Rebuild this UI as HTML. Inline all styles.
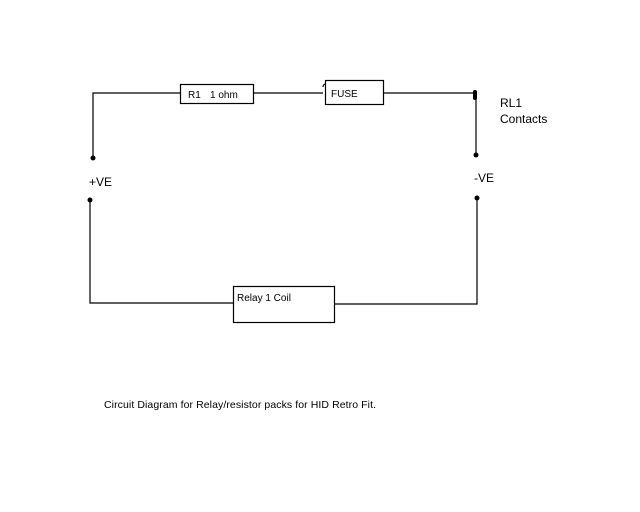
<!DOCTYPE html>
<html><head><style>
html,body{margin:0;padding:0;background:#fff;}
svg{display:block;}
text{font-family:"Liberation Sans",Arial,sans-serif;fill:#000;}
</style></head><body>
<svg width="640" height="512" viewBox="0 0 640 512" xmlns="http://www.w3.org/2000/svg">
<g stroke="#000" stroke-width="1.2" fill="none">
<polyline points="93,158 93,93 180,93"/>
<rect x="180.5" y="84.5" width="73" height="19" fill="#fff"/>
<line x1="253" y1="93" x2="323" y2="93"/>
<rect x="325.5" y="80.5" width="58" height="24" fill="#fff"/>
<path d="M325,84 Q323,85 323,87"/>
<line x1="383" y1="93" x2="476" y2="93"/>
<line x1="476" y1="93" x2="476" y2="155"/>
<polyline points="90,200 90,303 233,303"/>
<rect x="233.5" y="286.5" width="101" height="36" fill="#fff"/>
<polyline points="334,304 477,304 477,198"/>
</g>
<g fill="#000">
<circle cx="93" cy="158" r="2.5"/>
<circle cx="90" cy="200" r="2.5"/>
<circle cx="476" cy="155" r="2.5"/>
<circle cx="477" cy="198" r="2.5"/>
<rect x="473" y="90" width="4" height="10" rx="2"/>
</g>
<text x="188" y="98" font-size="10">R1</text>
<text x="210" y="98" font-size="10">1 ohm</text>
<text x="331" y="97" font-size="10">FUSE</text>
<text x="237" y="301" font-size="10">Relay 1 Coil</text>
<text x="89" y="186" font-size="12">+VE</text>
<text x="474" y="182" font-size="12">-VE</text>
<text x="500" y="107" font-size="12">RL1</text>
<text x="500" y="123" font-size="12">Contacts</text>
<text x="104" y="408" font-size="10.5" textLength="272">Circuit Diagram for Relay/resistor packs for HID Retro Fit.</text>
</svg>
</body></html>
